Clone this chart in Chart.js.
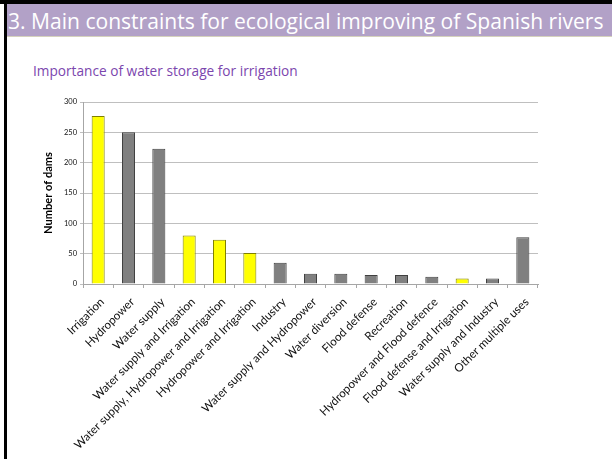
<!DOCTYPE html>
<html><head><meta charset="utf-8">
<script src="https://cdn.jsdelivr.net/npm/chart.js@4"></script>
<style>
html,body{margin:0;padding:0;background:#fff;}
body{width:612px;height:459px;position:relative;overflow:hidden;font-family:"Open Sans",sans-serif}
#topbar{position:absolute;left:0;top:0;width:612px;height:4px;background:#000}
#leftbar{position:absolute;left:4px;top:0;width:3px;height:459px;background:#000}
#band{position:absolute;left:7px;top:4px;width:605px;height:32px;background:#B2A1C7;border-bottom:1px solid #D5D2BC}
#title{position:absolute;left:8px;top:5px;height:32px;line-height:32px;color:#fff;white-space:nowrap;font-family:"Open Sans",sans-serif}
#sub{position:absolute;left:33px;top:63px;color:#7B46AE;white-space:nowrap;font-family:"Open Sans",sans-serif;line-height:1.2}
#c{position:absolute;left:0;top:0}
</style></head>
<body>
<div id="topbar"></div><div id="leftbar"></div><div id="band"></div>
<div id="title">3. Main constraints for ecological improving of Spanish rivers</div>
<div id="sub">Importance of water storage for irrigation</div>
<canvas id="c" width="612" height="459"></canvas>
<script>
const categories = ["Irrigation","Hydropower","Water supply","Water supply and Irrigation","Water supply, Hydropower and Irrigation","Hydropower and Irrigation","Industry","Water supply and Hydropower","Water diversion","Flood defense","Recreation","Hydropower and Flood defence","Flood defense and Irrigation","Water supply and Industry","Other multiple uses"];
const dams = [277,250,223,80,73,51,35,17,17,15,15,12,9,9,77];
const irrigationRelated = [true,false,false,true,true,true,false,false,false,false,false,false,true,false,false];
const yTicks = [0,50,100,150,200,250,300];

const FONT = 'Lato, "Open Sans", sans-serif';
const mctx = document.createElement('canvas').getContext('2d');
function fitSize(text, weight, target, fam){
  mctx.font = weight + ' 20px ' + (fam||FONT);
  return 20 * target / mctx.measureText(text).width;
}
const HFONT = '"Open Sans", sans-serif';
document.getElementById('title').style.fontSize = fitSize(document.getElementById('title').textContent,'normal',596,HFONT) + 'px';
document.getElementById('sub').style.fontSize = fitSize(document.getElementById('sub').textContent,'normal',265,HFONT) + 'px';
const xFont = fitSize(categories[4],'normal',208);
const yTitleFont = fitSize('Number of dams','bold',82);

new Chart(document.getElementById('c'), {
  type:'bar',
  data:{labels:categories, datasets:[{
    data:dams,
    backgroundColor: irrigationRelated.map(v=>v?'#FFFF00':'#808080'),
    borderColor: irrigationRelated.map(v=>v?'#7F7F00':'#404040'),
    borderWidth:1,
    barPercentage:0.43,
    categoryPercentage:1
  }]},
  options:{
    responsive:false, animation:false,
    layout:{padding:{left:38,right:74,top:102,bottom:0}},
    plugins:{legend:{display:false},tooltip:{enabled:false}},
    scales:{
      x:{
        grid:{offset:true,drawOnChartArea:false,drawTicks:true,tickLength:4,color:'#A6A6A6'},
        border:{color:'#A6A6A6'},
        ticks:{minRotation:45,maxRotation:45,autoSkip:false,font:{family:FONT,size:xFont},color:'#111',padding:7,labelOffset:4},
        afterFit(s){s.height=175;}
      },
      y:{
        min:0,max:300,
        afterBuildTicks(s){s.ticks = yTicks.map(v=>({value:v}));},
        ticks:{font:{family:FONT,size:7.5},color:'#111',padding:3},
        grid:{color:'#BFBFBF',tickLength:3},
        border:{color:'#A6A6A6'},
        title:{display:true,text:'Number of dams',font:{family:FONT,size:yTitleFont,weight:'bold'},color:'#000',padding:{top:4,bottom:0}},
        afterFit(s){s.width=45;}
      }
    }
  }
});
</script>
</body></html>
